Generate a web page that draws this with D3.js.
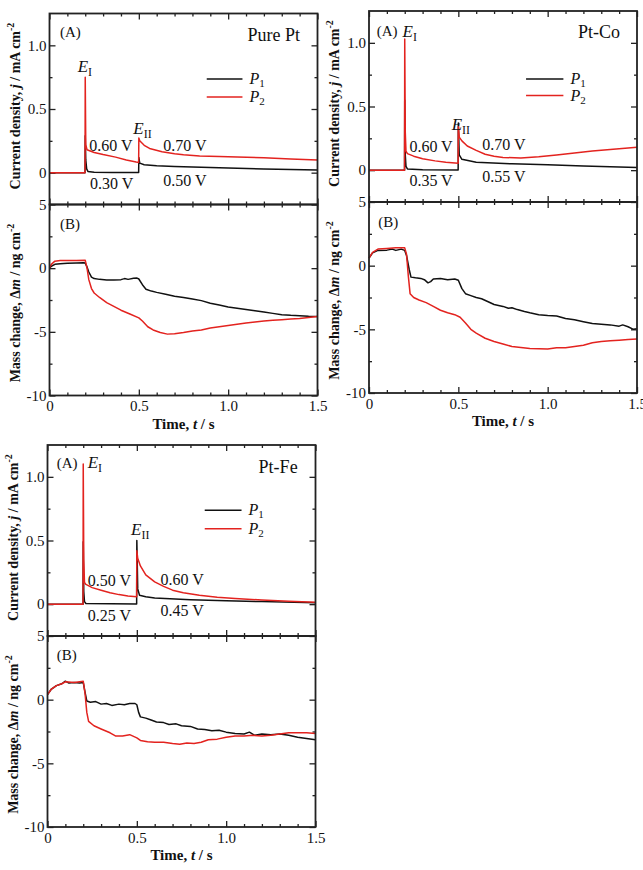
<!DOCTYPE html>
<html>
<head>
<meta charset="utf-8">
<script src="https://cdn.jsdelivr.net/npm/d3@7/dist/d3.min.js"></script>
<style>
  body { margin: 0; background: #fff; }
  svg { display: block; font-family: "Liberation Serif", "Times New Roman", serif; }
</style>
</head>
<body>
<div id="chart"></div>
<script>
// ---- data: [time (s), value] ----
// current density j (mA cm-2)
const ptJ1 = [[0,0],[0.199,0],[0.2,0.29],[0.203,0.1],[0.208,0.03],[0.215,0.01],[0.25,0.004],[0.35,0.002],[0.499,0.001],[0.5,0.12],[0.505,0.075],[0.53,0.062],[0.6,0.054],[0.7,0.048],[0.85,0.042],[1.0,0.036],[1.2,0.029],[1.35,0.024],[1.5,0.02]];
const ptJ2 = [[0,0],[0.199,0],[0.2,0.75],[0.203,0.22],[0.21,0.18],[0.25,0.158],[0.3,0.142],[0.37,0.122],[0.43,0.1],[0.485,0.083],[0.499,0.08],[0.5,0.273],[0.505,0.25],[0.53,0.215],[0.56,0.19],[0.63,0.165],[0.7,0.148],[0.75,0.14],[0.84,0.13],[0.95,0.126],[1.05,0.123],[1.2,0.117],[1.35,0.108],[1.5,0.1]];
const coJ1 = [[0,0],[0.199,0],[0.2,0.55],[0.203,0.12],[0.207,0.03],[0.215,0.01],[0.3,0.004],[0.499,0.002],[0.5,0.37],[0.505,0.12],[0.52,0.085],[0.6,0.062],[0.8,0.05],[1.0,0.042],[1.2,0.033],[1.5,0.02]];
const coJ2 = [[0,0],[0.199,0],[0.2,1.03],[0.203,0.3],[0.207,0.15],[0.215,0.13],[0.25,0.11],[0.3,0.09],[0.37,0.073],[0.43,0.062],[0.499,0.055],[0.5,0.34],[0.505,0.26],[0.52,0.23],[0.55,0.19],[0.6,0.155],[0.65,0.125],[0.7,0.11],[0.75,0.1],[0.85,0.096],[0.95,0.105],[1.05,0.12],[1.15,0.135],[1.25,0.15],[1.35,0.163],[1.45,0.175],[1.5,0.18]];
const feJ1 = [[0,0],[0.199,0],[0.2,0.49],[0.203,0.1],[0.207,0.02],[0.215,0.005],[0.499,0.002],[0.5,0.5],[0.505,0.12],[0.515,0.07],[0.55,0.058],[0.6,0.048],[0.8,0.035],[1.0,0.027],[1.2,0.02],[1.5,0.012]];
const feJ2 = [[0,0],[0.199,0],[0.2,1.1],[0.203,0.35],[0.207,0.17],[0.215,0.155],[0.25,0.13],[0.3,0.11],[0.35,0.09],[0.4,0.075],[0.45,0.065],[0.499,0.058],[0.5,0.42],[0.505,0.36],[0.52,0.3],[0.55,0.23],[0.6,0.175],[0.65,0.14],[0.7,0.11],[0.76,0.09],[0.85,0.07],[0.95,0.055],[1.05,0.045],[1.2,0.032],[1.35,0.022],[1.5,0.015]];

// mass change dm (ng cm-2)
const ptM1 = [[0,0],[0.01,0.15],[0.03,0.3],[0.06,0.35],[0.1,0.38],[0.15,0.4],[0.19,0.42],[0.2,0.4],[0.21,0.1],[0.22,-0.3],[0.235,-0.7],[0.25,-0.82],[0.28,-0.88],[0.32,-0.92],[0.36,-0.93],[0.4,-0.9],[0.42,-0.82],[0.44,-0.88],[0.47,-0.8],[0.49,-0.78],[0.5,-0.85],[0.52,-1.3],[0.54,-1.65],[0.57,-1.8],[0.6,-1.9],[0.65,-2.05],[0.7,-2.2],[0.75,-2.3],[0.8,-2.42],[0.85,-2.55],[0.9,-2.75],[0.95,-2.9],[1.0,-3.05],[1.05,-3.15],[1.1,-3.25],[1.15,-3.35],[1.2,-3.45],[1.25,-3.55],[1.3,-3.65],[1.35,-3.7],[1.4,-3.73],[1.45,-3.78],[1.5,-3.8]];
const ptM2 = [[0,0],[0.01,0.3],[0.03,0.55],[0.06,0.6],[0.1,0.6],[0.15,0.6],[0.2,0.62],[0.21,0.0],[0.22,-0.9],[0.235,-1.6],[0.25,-1.95],[0.28,-2.3],[0.32,-2.7],[0.36,-3.0],[0.4,-3.3],[0.45,-3.6],[0.5,-3.9],[0.52,-4.15],[0.55,-4.6],[0.58,-4.85],[0.62,-5.05],[0.66,-5.18],[0.7,-5.15],[0.75,-5.05],[0.8,-4.93],[0.85,-4.85],[0.9,-4.7],[0.95,-4.6],[1.0,-4.5],[1.05,-4.4],[1.1,-4.3],[1.15,-4.22],[1.2,-4.15],[1.25,-4.1],[1.3,-4.05],[1.35,-4.0],[1.4,-3.95],[1.45,-3.88],[1.5,-3.8]];
const coM1 = [[0,0.6],[0.02,1.0],[0.05,1.2],[0.1,1.22],[0.13,1.3],[0.15,1.2],[0.18,1.3],[0.2,1.2],[0.21,0.8],[0.225,-0.3],[0.235,-0.9],[0.26,-0.95],[0.29,-1.0],[0.31,-1.1],[0.33,-1.35],[0.345,-1.25],[0.36,-1.05],[0.4,-1.0],[0.44,-1.1],[0.48,-1.05],[0.5,-1.15],[0.52,-1.8],[0.54,-2.2],[0.57,-2.35],[0.6,-2.5],[0.63,-2.6],[0.67,-2.85],[0.7,-3.05],[0.75,-3.2],[0.78,-3.35],[0.8,-3.3],[0.83,-3.45],[0.87,-3.6],[0.9,-3.7],[0.95,-3.85],[1.0,-3.92],[1.05,-3.95],[1.1,-4.15],[1.15,-4.25],[1.2,-4.4],[1.25,-4.55],[1.3,-4.6],[1.35,-4.65],[1.4,-4.75],[1.42,-4.65],[1.45,-4.8],[1.48,-5.0],[1.5,-4.95]];
const coM2 = [[0,0.6],[0.02,1.05],[0.05,1.3],[0.1,1.35],[0.15,1.4],[0.2,1.4],[0.21,0.9],[0.22,-0.8],[0.23,-2.2],[0.25,-2.5],[0.28,-2.7],[0.32,-2.9],[0.36,-3.2],[0.4,-3.5],[0.44,-3.7],[0.48,-3.85],[0.51,-4.05],[0.54,-4.5],[0.57,-5.0],[0.6,-5.3],[0.65,-5.7],[0.7,-5.95],[0.75,-6.15],[0.8,-6.35],[0.85,-6.42],[0.9,-6.5],[0.95,-6.52],[1.0,-6.55],[1.05,-6.45],[1.1,-6.45],[1.15,-6.35],[1.2,-6.25],[1.25,-6.05],[1.3,-5.95],[1.35,-5.9],[1.4,-5.85],[1.45,-5.8],[1.5,-5.75]];
const feM1 = [[0,0.4],[0.02,0.8],[0.05,1.1],[0.08,1.25],[0.1,1.45],[0.12,1.3],[0.15,1.35],[0.18,1.3],[0.2,1.35],[0.21,0.6],[0.22,-0.1],[0.24,-0.2],[0.27,-0.15],[0.3,-0.35],[0.33,-0.3],[0.36,-0.45],[0.4,-0.35],[0.43,-0.4],[0.46,-0.3],[0.49,-0.3],[0.5,-0.4],[0.51,-1.0],[0.52,-1.35],[0.55,-1.45],[0.58,-1.6],[0.61,-1.75],[0.65,-1.8],[0.68,-1.95],[0.72,-1.9],[0.75,-2.05],[0.8,-2.1],[0.84,-2.3],[0.88,-2.35],[0.92,-2.45],[0.96,-2.4],[1.0,-2.55],[1.05,-2.65],[1.1,-2.7],[1.13,-2.55],[1.16,-2.8],[1.2,-2.7],[1.25,-2.75],[1.3,-2.7],[1.35,-2.8],[1.4,-2.95],[1.45,-3.05],[1.5,-3.15]];
const feM2 = [[0,0.4],[0.02,0.8],[0.05,1.1],[0.08,1.25],[0.1,1.4],[0.15,1.35],[0.2,1.45],[0.21,0.5],[0.22,-1.0],[0.23,-1.7],[0.26,-2.05],[0.3,-2.3],[0.35,-2.6],[0.38,-2.85],[0.42,-2.85],[0.46,-2.75],[0.5,-3.0],[0.52,-3.2],[0.56,-3.3],[0.6,-3.35],[0.65,-3.35],[0.7,-3.45],[0.74,-3.5],[0.78,-3.4],[0.82,-3.45],[0.86,-3.35],[0.9,-3.15],[0.95,-3.1],[1.0,-2.95],[1.05,-2.85],[1.1,-2.85],[1.15,-2.8],[1.2,-2.85],[1.25,-2.8],[1.3,-2.7],[1.35,-2.6],[1.4,-2.6],[1.45,-2.6],[1.5,-2.65]];

// ticks
const xMajor = [0, 0.5, 1.0, 1.5];
const xMinor = [0.1, 0.2, 0.3, 0.4, 0.6, 0.7, 0.8, 0.9, 1.1, 1.2, 1.3, 1.4];
const jMajor = [0, 0.5, 1.0];
const jMinor = [0.25, 0.75];
const mMajor = [-10, -5, 0, 5];
const mMinor = [-7.5, -2.5, 2.5];

// applied potentials written on the plots
const ptVolts = ['0.60 V', '0.70 V', '0.30 V', '0.50 V'];
const coVolts = ['0.60 V', '0.70 V', '0.35 V', '0.55 V'];
const feVolts = ['0.50 V', '0.60 V', '0.25 V', '0.45 V'];

const W = 268, H = 191;   // plot size of one sub-plot
const RED = '#e3231f', BLACK = '#111';

const panels = [
  { name: 'Pure Pt', left: 49.5, top: 13.5, j: [ptJ1, ptJ2], m: [ptM1, ptM2], volts: ptVolts,
    pos: { A: [0.059, 1.063], name: [1.402, 1.036], E1: [0.158, 0.79], E2: [0.469, 0.30],
           volts: [[0.223, 0.172], [0.637, 0.172], [0.227, -0.131], [0.637, -0.105]],
           leg: [0.88, 1.08, 0.735, 0.594], B: [0.059, 3.09] } },
  { name: 'Pt-Co', left: 369, top: 11, j: [coJ1, coJ2], m: [coM1, coM2], volts: coVolts,
    pos: { A: [0.043, 1.05], name: [1.405, 1.04], E1: [0.188, 1.047], E2: [0.463, 0.318],
           volts: [[0.226, 0.14], [0.634, 0.156], [0.226, -0.125], [0.634, -0.094]],
           leg: [0.879, 1.088, 0.716, 0.586], B: [0.052, 3.06] } },
  { name: 'Pt-Fe', left: 47.5, top: 445, j: [feJ1, feJ2], m: [feM1, feM2], volts: feVolts,
    pos: { A: [0.052, 1.066], name: [1.40, 1.03], E1: [0.225, 1.066], E2: [0.468, 0.54],
           volts: [[0.225, 0.145], [0.633, 0.15], [0.225, -0.13], [0.633, -0.092]],
           leg: [0.88, 1.086, 0.737, 0.592], B: [0.052, 3.15] } }
];

const svg = d3.select('#chart').append('svg')
  .attr('width', 643).attr('height', 870);
svg.append('rect').attr('width', 643).attr('height', 870).attr('fill', '#fff');

const fmtX = d => d === 0 ? '0' : d3.format('.1f')(d);
const fmtJ = d => d === 0 ? '0' : d3.format('.1f')(d);
const fmtM = d => d < 0 ? '-' + Math.abs(d) : String(d);

// inward ticks on one edge; major with labels, minor without
function ticks(g, axisFn, scale, major, minor, fmt, showLabels) {
  g.call(axisFn(scale).tickValues(major).tickSize(-6).tickPadding(3)
        .tickFormat(showLabels ? fmt : () => ''));
  g.append('g').call(axisFn(scale).tickValues(minor).tickSize(-3).tickFormat(() => ''));
  g.selectAll('.domain').remove();
  g.selectAll('line').attr('stroke', '#222').attr('stroke-width', 1.3);
  g.selectAll('text').attr('fill', '#111').style('font-size', '15px')
    .style('font-family', '"Liberation Serif", serif');
  return g;
}

function drawPanel(p) {
  const g = svg.append('g').attr('transform', `translate(${p.left},${p.top})`);
  const x = d3.scaleLinear().domain([0, 1.5]).range([0, W]);
  const yA = d3.scaleLinear().domain([-0.25, 1.25]).range([H, 0]);
  const yB = d3.scaleLinear().domain([-10, 5]).range([2 * H, H]);

  // axes, all ticks pointing inside
  ticks(g.append('g'), d3.axisTop, x, xMajor, xMinor, fmtX, false);
  ticks(g.append('g').attr('transform', `translate(0,${H})`), d3.axisBottom, x, xMajor, xMinor, fmtX, false);
  ticks(g.append('g').attr('transform', `translate(0,${H})`), d3.axisTop, x, xMajor, xMinor, fmtX, false);
  ticks(g.append('g').attr('transform', `translate(0,${2 * H})`), d3.axisBottom, x, xMajor, xMinor, fmtX, true)
    .selectAll('.tick text').attr('dy', '0.85em');
  ticks(g.append('g'), d3.axisLeft, yA, jMajor, jMinor, fmtJ, true);
  ticks(g.append('g').attr('transform', `translate(${W},0)`), d3.axisRight, yA, jMajor, jMinor, fmtJ, false);
  ticks(g.append('g'), d3.axisLeft, yB, mMajor, mMinor, fmtM, true);
  ticks(g.append('g').attr('transform', `translate(${W},0)`), d3.axisRight, yB, mMajor, mMinor, fmtM, false);

  // curves: black first, red over it
  const lineA = d3.line().x(d => x(d[0])).y(d => yA(d[1]));
  const lineB = d3.line().x(d => x(d[0])).y(d => yB(d[1]));
  [BLACK, RED].forEach((c, i) => {
    g.append('path').attr('d', lineA(p.j[i])).attr('fill', 'none')
      .attr('stroke', c).attr('stroke-width', 1.5).attr('stroke-linejoin', 'round');
    g.append('path').attr('d', lineB(p.m[i])).attr('fill', 'none')
      .attr('stroke', c).attr('stroke-width', 1.5).attr('stroke-linejoin', 'round');
  });

  // frames
  g.append('rect').attr('width', W).attr('height', H).attr('fill', 'none').attr('stroke', '#222').attr('stroke-width', 1.8);
  g.append('rect').attr('y', H).attr('width', W).attr('height', H).attr('fill', 'none').attr('stroke', '#222').attr('stroke-width', 1.8);

  const q = p.pos;
  const txt = (t, v, yS) => g.append('text').attr('x', x(t)).attr('y', yS(v)).attr('fill', '#111');

  txt(q.A[0], q.A[1], yA).style('font-size', '15px').text('(A)');
  txt(q.B[0], q.B[1], yB).style('font-size', '15px').text('(B)');
  txt(q.name[0], q.name[1], yA).style('font-size', '18px').attr('text-anchor', 'end').text(p.name);

  // E_I, E_II
  [[q.E1, 'I'], [q.E2, 'II']].forEach(([pt, sub]) => {
    const t = txt(pt[0], pt[1], yA).style('font-size', '17px');
    t.append('tspan').style('font-style', 'italic').text('E');
    t.append('tspan').attr('dy', 4).style('font-size', '12px').text(sub);
  });

  p.volts.forEach((v, i) => {
    txt(q.volts[i][0], q.volts[i][1], yA).style('font-size', '16px').text(v);
  });

  // legend
  const [l0, l1, ly1, ly2] = q.leg;
  [[ly1, BLACK, '1'], [ly2, RED, '2']].forEach(([ly, c, n]) => {
    g.append('line').attr('x1', x(l0)).attr('x2', x(l1)).attr('y1', yA(ly)).attr('y2', yA(ly))
      .attr('stroke', c).attr('stroke-width', 1.5);
    const t = g.append('text').attr('x', x(l1) + 7).attr('y', yA(ly) + 5).style('font-size', '16px').attr('fill', '#111');
    t.append('tspan').style('font-style', 'italic').text('P');
    t.append('tspan').attr('dy', 3).style('font-size', '11px').text(n);
  });

  // axis titles
  const ta = g.append('text').attr('transform', `translate(-30,${H / 2 - 3}) rotate(-90)`)
    .attr('text-anchor', 'middle').style('font-size', '14px').style('font-weight', 'bold').attr('fill', '#111');
  ta.append('tspan').text('Current density, ');
  ta.append('tspan').style('font-style', 'italic').text('j');
  ta.append('tspan').text(' / mA cm');
  ta.append('tspan').attr('dy', -6).style('font-size', '10px').text('-2');

  const tb = g.append('text').attr('transform', `translate(-30,${H * 1.5 + 3}) rotate(-90)`)
    .attr('text-anchor', 'middle').style('font-size', '14px').style('font-weight', 'bold').attr('fill', '#111');
  tb.append('tspan').text('Mass change, Δ');
  tb.append('tspan').style('font-style', 'italic').text('m');
  tb.append('tspan').text(' / ng cm');
  tb.append('tspan').attr('dy', -6).style('font-size', '10px').text('-2');

  const tx = g.append('text').attr('x', W / 2).attr('y', 2 * H + 33)
    .attr('text-anchor', 'middle').style('font-size', '15px').style('font-weight', 'bold').attr('fill', '#111');
  tx.append('tspan').text('Time, ');
  tx.append('tspan').style('font-style', 'italic').text('t');
  tx.append('tspan').text(' / s');
}

panels.forEach(drawPanel);
</script>
</body>
</html>
